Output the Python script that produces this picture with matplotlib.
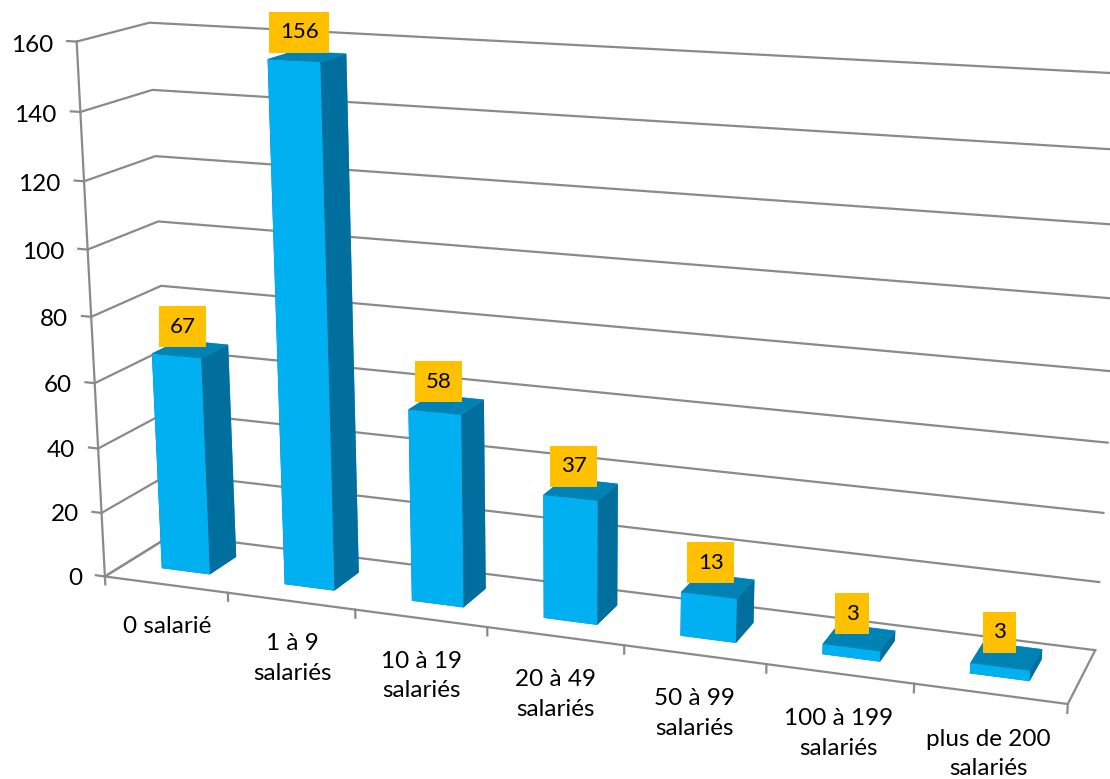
import numpy as np
import matplotlib
matplotlib.use("Agg")
import matplotlib.pyplot as plt
from mpl_toolkits.mplot3d import proj3d

plt.rcParams['font.family'] = ['Lato', 'DejaVu Sans']

categories = ['0 salarié', '1 à 9\nsalariés', '10 à 19\nsalariés', '20 à 49\nsalariés',
              '50 à 99\nsalariés', '100 à 199\nsalariés', 'plus de 200\nsalariés']
values = [67, 156, 58, 37, 13, 3, 3]
z_ticks = [0, 20, 40, 60, 80, 100, 120, 140, 160]

W, H = 1110, 779
GREY = '#8A8A8A'
FONT = 17.5
n = len(categories)

# frame of the chart (x, depth, value) and where it sits on the image, used to fit the camera
frame_3d = [(0, 0, 0), (0, 0, 20), (0, 0, 40), (0, 0, 60), (0, 0, 100), (0, 0, 120), (0, 0, 140), (0, 0, 160),
            (0, 1, 0), (0, 1, 100), (0, 1, 120), (0, 1, 140), (0, 1, 160),
            (1, 0, 0), (2, 0, 0), (6, 0, 0), (7, 0, 0), (7, 1, 0), (7, 1, 160)]
frame_px = [(105, 576.7), (101.7, 512.7), (98.3, 448.3), (95, 382.3), (87.3, 249.3), (84, 181), (81, 111.7), (76.7, 42),
            (173, 535), (158, 221), (155, 156), (152, 90), (149.3, 23.3),
            (227.3, 593.3), (355, 610), (914, 685), (1067.7, 703.3), (1095.3, 649.3), (1130, 74.3)]


def fit_camera(pts, px):
    A, b = [], []
    for (X, Y, Z), (u, v) in zip(pts, px):
        A.append([X, Y, Z, 1, 0, 0, 0, 0, -u * X, -u * Y, -u * Z])
        A.append([0, 0, 0, 0, X, Y, Z, 1, -v * X, -v * Y, -v * Z])
        b += [u, v]
    p = np.linalg.lstsq(np.array(A, float), np.array(b, float), rcond=None)[0]
    return np.array([p[:4], p[4:8], [0, 0, 0, -1], [p[8], p[9], p[10], 1.0]])


fig = plt.figure(figsize=(W / 100, H / 100), dpi=100)
ax = fig.add_axes([0, 0, 1, 1], projection='3d')
ax.set_axis_off()
ax.computed_zorder = False
ax.set_proj_type('ortho')  # stops Line3D clipping its points, the camera below has the perspective
M = fit_camera(frame_3d, frame_px)
ax.get_proj = lambda: M
ax.apply_aspect = lambda position=None: None
ax.viewLim.intervalx = (0, W)
ax.viewLim.intervaly = (H, 0)


def label(x, y, z, s, **kwargs):
    # 2D text at the projected spot, so its extent is the one really drawn
    u, v, _ = proj3d.proj_transform(x, y, z, M)
    ax.text2D(u, v, s, color='black', **kwargs)


# walls and floor
for z in z_ticks:
    ax.plot([0, 0, n], [0, 1, 1], [z, z, z], color=GREY, lw=1.6, zorder=1)
    ax.plot([-0.075, 0], [0, 0], [z, z], color=GREY, lw=1.6, zorder=1)
    label(-0.19, 0, z - 1.5, str(z), ha='right', va='center', fontsize=FONT, zorder=4)
ax.plot([0, 0], [0, 0], [0, z_ticks[-1]], color=GREY, lw=1.6, zorder=1)
ax.plot([0, 0], [0, 1], [0, 0], color=GREY, lw=1.6, zorder=1)
ax.plot([0, n, n], [0, 0, 1], [0, 0, 0], color=GREY, lw=1.6, zorder=1)
for i in range(n + 1):
    ax.plot([i, i], [0, 0], [0, -2.5], color=GREY, lw=1.6, zorder=1)

# bars: faces are bottom, top, front, back, left, right
face_colors = ['#0083B4', '#0083B4', '#00B0F0', '#00B0F0', '#006F9E', '#006F9E'] * n
xs = np.arange(n) + 0.3
ax.bar3d(xs, np.full(n, 0.3), np.zeros(n), 0.395, 0.41, values, color=face_colors,
         shade=False, edgecolor='none', zorder=2)

for i, v in enumerate(values):
    label(i + 0.445, 0.5, v + 6.7, str(v), ha='center', va='center', fontsize=16, zorder=5,
          bbox=dict(boxstyle='square,pad=0.47', fc='#FFC000', ec='none'))

for i, c in enumerate(categories):
    label(i + 0.5, 0, -10, c, ha='center', va='top', ma='center', fontsize=FONT,
          linespacing=1.5, zorder=4)

fig.savefig('out.png', dpi=100)
